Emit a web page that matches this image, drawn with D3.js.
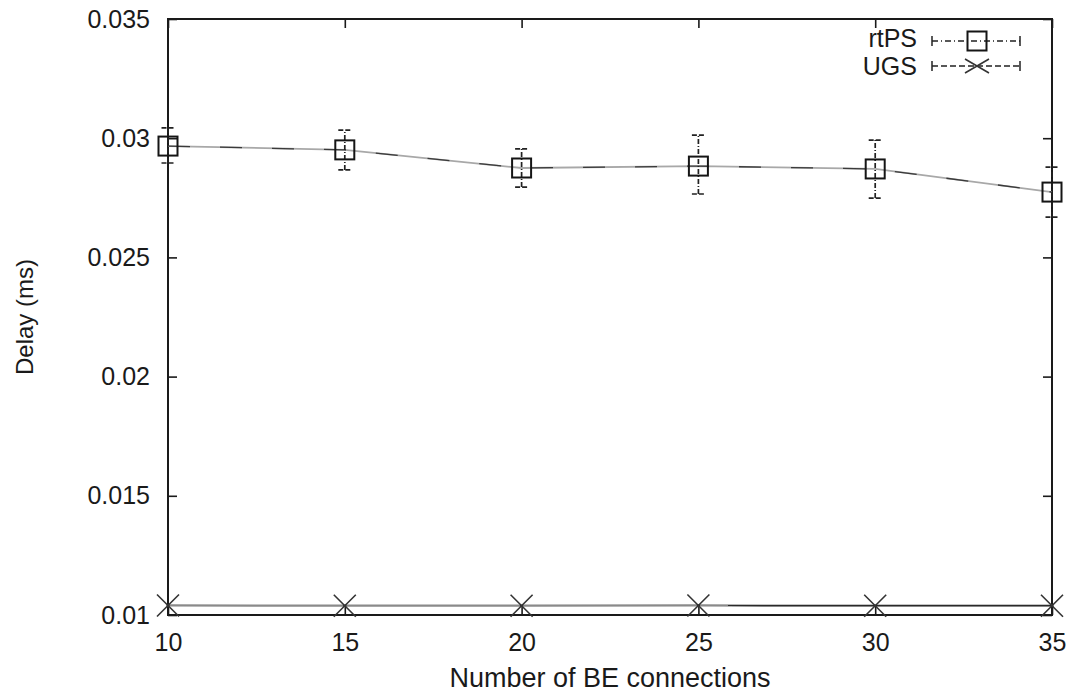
<!DOCTYPE html>
<html>
<head>
<meta charset="utf-8">
<script src="https://cdn.jsdelivr.net/npm/d3@7"></script>
<style>
  html, body { margin: 0; padding: 0; background: #fff; }
  svg { display: block; }
  text { font-family: "Liberation Sans", Arial, Helvetica, sans-serif; fill: #1a1a1a; }
</style>
</head>
<body>
<svg id="chart" width="1075" height="694"></svg>
<script>
// Number of best-effort connections on the x axis
const connections = [10, 15, 20, 25, 30, 35];

// rtPS mean delay and its error-bar range
const rtpsDelay = [0.02967, 0.02951, 0.02875, 0.02883, 0.02871, 0.02774];
const rtpsLow   = [0.02896, 0.02867, 0.02795, 0.02766, 0.02749, 0.02669];
const rtpsHigh  = [0.03043, 0.03034, 0.02955, 0.03013, 0.02992, 0.02879];

// UGS mean delay and its (very tight) error-bar range
const ugsDelay = [0.01040, 0.01039, 0.01039, 0.01040, 0.01039, 0.01039];
const ugsLow   = [0.01036, 0.01035, 0.01035, 0.01036, 0.01035, 0.01035];
const ugsHigh  = [0.01044, 0.01043, 0.01043, 0.01044, 0.01043, 0.01043];

const xTicks = [10, 15, 20, 25, 30, 35];
const yTicks = [0.01, 0.015, 0.02, 0.025, 0.03, 0.035];
const yTickLabels = ["0.01", "0.015", "0.02", "0.025", "0.03", "0.035"];

const seriesNames = ["rtPS", "UGS"];

const svg = d3.select("#chart");
const plotLeft = 168, plotRight = 1052, plotTop = 19, plotBottom = 615;

const x = d3.scaleLinear().domain([10, 35]).range([plotLeft, plotRight]);
const y = d3.scaleLinear().domain([0.01, 0.035]).range([plotBottom, plotTop]);

const ink = "#1a1a1a";
const tickLen = 9;

// Axes with inward ticks on all four sides
const gx = svg.append("g").attr("transform", `translate(0,${plotBottom})`)
  .call(d3.axisBottom(x).tickValues(xTicks).tickSize(-tickLen).tickPadding(18).tickFormat(d3.format("d")));
const gxTop = svg.append("g").attr("transform", `translate(0,${plotTop})`)
  .call(d3.axisTop(x).tickValues(xTicks).tickSize(-tickLen).tickFormat(""));
const gy = svg.append("g").attr("transform", `translate(${plotLeft},0)`)
  .call(d3.axisLeft(y).tickValues(yTicks).tickSize(-tickLen).tickPadding(18)
    .tickFormat((d, i) => yTickLabels[i]));
const gyRight = svg.append("g").attr("transform", `translate(${plotRight},0)`)
  .call(d3.axisRight(y).tickValues(yTicks).tickSize(-tickLen).tickFormat(""));

[gx, gxTop, gy, gyRight].forEach(g => {
  g.select(".domain").remove();
  g.selectAll(".tick line").attr("stroke", ink).attr("stroke-width", 1.6);
  g.selectAll(".tick text").attr("font-size", 25).attr("fill", ink)
    .style("font-family", "'Liberation Sans', Arial, sans-serif");
});

// Frame
svg.append("rect")
  .attr("x", plotLeft).attr("y", plotTop)
  .attr("width", plotRight - plotLeft).attr("height", plotBottom - plotTop)
  .attr("fill", "none").attr("stroke", ink).attr("stroke-width", 2);

// Axis titles
svg.append("text")
  .attr("x", (plotLeft + plotRight) / 2).attr("y", 687)
  .attr("text-anchor", "middle").attr("font-size", 27)
  .text("Number of BE connections");
svg.append("text")
  .attr("transform", `translate(33,${(plotTop + plotBottom) / 2}) rotate(-90)`)
  .attr("text-anchor", "middle").attr("font-size", 24)
  .text("Delay (ms)");

const rtps = connections.map((c, i) => ({ c, v: rtpsDelay[i], lo: rtpsLow[i], hi: rtpsHigh[i] }));
const ugs = connections.map((c, i) => ({ c, v: ugsDelay[i], lo: ugsLow[i], hi: ugsHigh[i] }));

const line = d3.line().x(d => x(d.c)).y(d => y(d.v));

// rtPS connecting line: pale grey with darker dash segments
svg.append("path").datum(rtps).attr("d", line)
  .attr("fill", "none").attr("stroke", "#a8a8a8").attr("stroke-width", 1.8);
svg.append("path").datum(rtps).attr("d", line)
  .attr("fill", "none").attr("stroke", "#3a3a3a").attr("stroke-width", 1.3)
  .attr("stroke-dasharray", "22,30");

// UGS connecting line
svg.append("path").datum(ugs).attr("d", line)
  .attr("fill", "none").attr("stroke", "#8a8a8a").attr("stroke-width", 2.2);
svg.append("path").datum(ugs).attr("d", line)
  .attr("fill", "none").attr("stroke", "#2a2a2a").attr("stroke-width", 1.2)
  .attr("stroke-dasharray", "0,560,1000");

// rtPS error bars
const capW = 6.5;
const eb = svg.append("g").attr("stroke", "#222").attr("stroke-width", 1.7);
rtps.forEach(d => {
  eb.append("line").attr("x1", x(d.c)).attr("x2", x(d.c))
    .attr("y1", y(d.lo)).attr("y2", y(d.hi)).attr("stroke-dasharray", "5,2,1,2");
  [d.lo, d.hi].forEach(v => {
    eb.append("line").attr("x1", x(d.c) - capW).attr("x2", x(d.c) + capW)
      .attr("y1", y(v)).attr("y2", y(v)).attr("stroke-dasharray", "5,2");
  });
});

// UGS error bars (tiny)
ugs.forEach(d => {
  eb.append("line").attr("x1", x(d.c)).attr("x2", x(d.c))
    .attr("y1", y(d.lo)).attr("y2", y(d.hi)).attr("stroke-width", 3);
});

// rtPS square markers
const sq = 19;
svg.append("g").selectAll("rect").data(rtps).join("rect")
  .attr("x", d => x(d.c) - sq / 2).attr("y", d => y(d.v) - sq / 2)
  .attr("width", sq).attr("height", sq)
  .attr("fill", "none").attr("stroke", "#151515").attr("stroke-width", 2);

// UGS cross markers
const cr = 11;
const crossPath = (cx, cy, rx = cr, ry = cr) =>
  `M${cx - rx},${cy - ry}L${cx + rx},${cy + ry}M${cx - rx},${cy + ry}L${cx + rx},${cy - ry}`;
svg.append("g").selectAll("path").data(ugs).join("path")
  .attr("d", d => crossPath(x(d.c), y(d.v)))
  .attr("stroke", "#333").attr("stroke-width", 1.6).attr("fill", "none");

// Legend
const legend = svg.append("g");
const legRows = [
  { name: seriesNames[0], y: 41, base: 47, dash: "6,3,1,3" },
  { name: seriesNames[1], y: 66, base: 75, dash: "6,3" }
];
const lx1 = 932, lx2 = 1020, lmid = 977;
legRows.forEach((r, i) => {
  legend.append("text").attr("x", 917).attr("y", r.base)
    .attr("text-anchor", "end").attr("font-size", 25).text(r.name);
  legend.append("line").attr("x1", lx1).attr("x2", lx2).attr("y1", r.y).attr("y2", r.y)
    .attr("stroke", "#222").attr("stroke-width", 1.5).attr("stroke-dasharray", r.dash);
  [lx1, lx2].forEach(ex => legend.append("line")
    .attr("x1", ex).attr("x2", ex).attr("y1", r.y - 5).attr("y2", r.y + 5)
    .attr("stroke", "#222").attr("stroke-width", 1.5));
  if (i === 0) {
    legend.append("rect").attr("x", lmid - sq / 2).attr("y", r.y - sq / 2)
      .attr("width", sq).attr("height", sq)
      .attr("fill", "none").attr("stroke", "#151515").attr("stroke-width", 2);
  } else {
    legend.append("path").attr("d", crossPath(lmid, r.y, 12, 7))
      .attr("stroke", "#333").attr("stroke-width", 1.6).attr("fill", "none");
  }
});
</script>
</body>
</html>
